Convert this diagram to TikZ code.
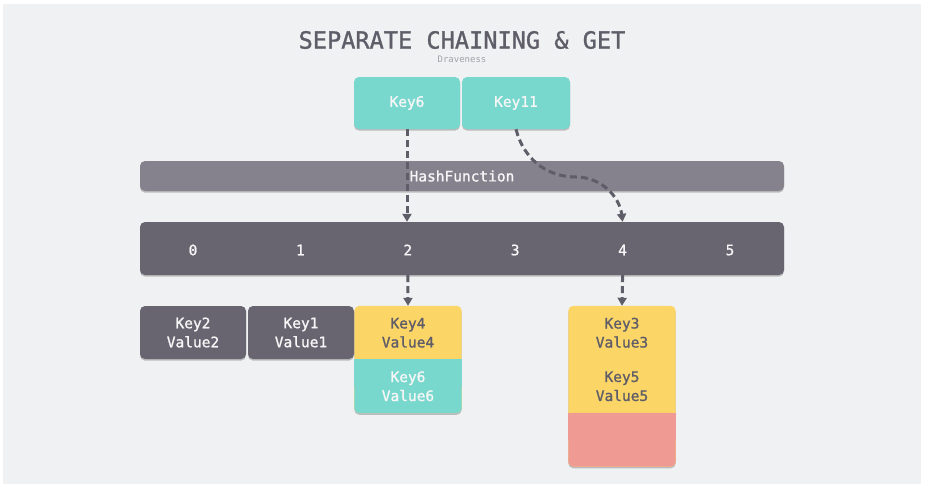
\documentclass[tikz,border=0pt]{standalone}
\usepackage{fontspec}
\setmonofont{DejaVu Sans Mono}
\newfontfamily\heavymono{DejaVu Sans Mono}[FakeBold=1.2]
\usetikzlibrary{arrows.meta,backgrounds,shadows}
\definecolor{pagegray}{HTML}{F0F1F3}
\definecolor{keyteal}{HTML}{78D8CE}
\definecolor{hashgray}{HTML}{85828D}
\definecolor{slotgray}{HTML}{686571}
\definecolor{pairyellow}{HTML}{FCD567}
\definecolor{freered}{HTML}{F09A94}
\definecolor{ink}{HTML}{5F5D68}
\definecolor{muted}{HTML}{A2A1A8}
\definecolor{paper}{HTML}{F6F6F6}

\begin{document}
\begin{tikzpicture}[x=1pt,y=1pt,
  font=\heavymono\fontsize{14.5}{19}\selectfont, text=paper,
  lift/.style={drop shadow={shadow xshift=0pt,shadow yshift=-1.6pt,opacity=.22,fill=black}},
  cell/.style={rounded corners=5pt,align=center,inner sep=0pt},
  keybox/.style={cell,fill=keyteal,minimum height=52pt,lift},
  pairbox/.style={cell,fill=slotgray,minimum width=106pt,minimum height=53pt,lift},
  chaincell/.style={cell,minimum width=107pt,minimum height=53.5pt,text=ink},
  bar/.style={cell,minimum width=644pt,lift},
  lookup/.style={-{Triangle[length=8pt,width=9pt]},draw=ink,line width=3pt,
                 dash pattern=on 7pt off 4pt}
]
% page in pixel units, y downwards
\path[use as bounding box] (0,0) rectangle (927,-488);
\begin{scope}[on background layer]
  \fill[white] (0,0) rectangle (927,-488);
  \fill[pagegray] (3,-4) rectangle (921,-484);
\end{scope}

\node[font=\heavymono\fontsize{23.6}{26}\selectfont,text=ink] (title) at (462,-40) {SEPARATE CHAINING \& GET};
\node[font=\ttfamily\fontsize{9}{10}\selectfont,text=muted] (author) at (462,-59) {Draveness};

\node[keybox,minimum width=106pt] (key6) at (407,-103) {Key6};
\node[keybox,minimum width=108pt] (key11) at (516,-103) {Key11};

\node[bar,fill=hashgray,minimum height=30pt] (hash) at (462,-176) {HashFunction};
\node[bar,fill=slotgray,minimum height=53pt] (slots) at (462,-248.5) {};
\foreach \i in {0,...,5}
  \node (idx\i) at (193+107.4*\i,-250) {\i};

\node[pairbox] (kv2) at (193,-332.5) {Key2\\Value2};
\node[pairbox] (kv1) at (301,-332.5) {Key1\\Value1};

% bucket 2: two entries
\node[chaincell] (kv4) at (408,-332.75) {Key4\\Value4};
\node[chaincell,text=paper] (kv6) at (408,-386.25) {Key6\\Value6};
% bucket 4: two entries and a free cell
\node[chaincell] (kv3) at (622,-332.75) {Key3\\Value3};
\node[chaincell] (kv5) at (622,-386.25) {Key5\\Value5};
\node[chaincell] (spare) at (622,-439.75) {};

\begin{scope}[on background layer]
  \fill[pairyellow,rounded corners=5pt,lift] (kv4.north west) rectangle (kv6.south east);
  \fill[keyteal,rounded corners=5pt] (kv6.north west) rectangle (kv6.south east);
  \fill[keyteal] (kv6.north west) rectangle (kv6.east);
  \fill[pairyellow,rounded corners=5pt,lift] (kv3.north west) rectangle (spare.south east);
  \fill[freered,rounded corners=5pt] (spare.north west) rectangle (spare.south east);
  \fill[freered] (spare.north west) rectangle (spare.east);
\end{scope}

\coordinate (bend) at (576,-177);
\draw[lookup] (key6.south) -- (key6.south |- slots.north);
\draw[lookup] (key11.south) to[out=-76,in=180] (bend) to[out=0,in=97] (idx4 |- slots.north);
\draw[lookup] (idx2 |- slots.south) -- (kv4.north);
\draw[lookup] (idx4 |- slots.south) -- (kv3.north);
\end{tikzpicture}
\end{document}
